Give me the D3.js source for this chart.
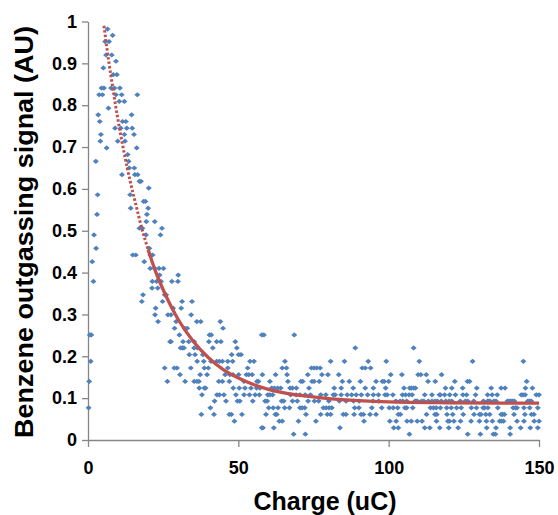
<!DOCTYPE html>
<html>
<head>
<meta charset="utf-8">
<script src="https://cdn.jsdelivr.net/npm/d3@7"></script>
<style>
  html, body { margin: 0; padding: 0; background: #fff; }
  svg { display: block; font-family: "Liberation Sans", Arial, sans-serif; }
</style>
</head>
<body>
<svg id="chart" width="558" height="515"></svg>
<script>
// data: signal comes in steps, so points are grouped per level
const signalLevels = [
  0.982, 0.967, 0.952, 0.920, 0.905, 0.889, 0.873, 0.841, 0.825, 0.809,
  0.793, 0.777, 0.761, 0.745, 0.730, 0.714, 0.698, 0.682, 0.666, 0.650,
  0.634, 0.618, 0.602, 0.586, 0.570, 0.554, 0.539, 0.522, 0.506, 0.490,
  0.458, 0.442, 0.426, 0.410, 0.394, 0.379, 0.363, 0.347, 0.331, 0.315,
  0.299, 0.283, 0.267, 0.251, 0.235, 0.220, 0.204, 0.188, 0.172, 0.156,
  0.140, 0.124, 0.108, 0.093, 0.077, 0.061, 0.045, 0.029, 0.014
];
const chargeAtLevel = [
  [6.5], [8.2], [5.7, 7.0], [6.0, 7.9], [9.3], [5.1], [8.4, 9.6],
  [4.5, 5.3, 7.7, 8.8, 10.6], [3.7, 4.8, 9.3, 11.2, 16.4], [10.4, 12.1],
  [6.8], [3.4, 14.5], [3.9, 11.5, 12.6], [9.0, 10.9, 12.9, 14.7],
  [4.3, 12.1, 15.3], [4.1, 9.9, 12.3], [6.2, 16.2], [13.2], [2.6, 13.5],
  [13.7, 15.4], [11.3, 15.6, 16.5], [17.1, 17.6], [20.2], [3.2, 14.0],
  [18.5, 19.1], [14.2, 20.0], [3.0, 19.6], [19.4, 22.2], [17.1, 18.1, 24.6],
  [2.0, 19.3, 24.1], [2.7, 20.4], [14.9, 15.9, 20.7, 21.5], [1.4, 18.7],
  [20.7, 22.2, 23.6, 25.1], [23.8, 30.0], [1.8, 21.4, 22.8, 24.3, 27.9, 29.9],
  [21.3, 23.2], [18.3, 25.5, 26.0], [17.9, 24.8, 31.3, 34.6], [22.5, 28.3, 31.0],
  [22.3, 26.6, 27.6, 34.3], [23.3, 29.3, 36.2, 37.5, 44.0], [28.8, 32.2, 33.0, 44.9],
  [0.6, 1.1, 30.4, 40.4, 41.0, 57.8, 58.5, 68.6],
  [27.3, 27.6, 31.6, 33.5, 35.3, 40.2, 42.8, 44.2, 49.0],
  [30.8, 31.4, 31.9, 35.3, 36.4, 41.5, 49.5, 88.9, 108.3],
  [33.7, 35.6, 38.2, 47.8, 50.1, 50.9],
  [0.9, 36.3, 38.5, 40.9, 42.8, 43.7, 44.7, 46.5, 48.1, 53.9, 55.2, 65.5, 80.7,
   85.3, 93.2, 99.2, 110.2, 127.9, 144.8],
  [25.5, 28.7, 29.6, 34.2, 38.7, 40.0, 46.5, 53.1, 64.6, 66.0, 74.3, 75.2, 76.1,
   77.2, 91.2, 92.2, 94.0],
  [30.6, 37.3, 39.6, 45.6, 47.2, 48.2, 50.1, 52.7, 53.5, 54.6, 58.0, 62.4, 66.2,
   73.1, 77.8, 79.8, 83.4, 100.7, 104.4, 109.8, 110.7, 112.5, 117.6],
  [0.4, 26.4, 32.3, 35.3, 36.2, 36.9, 43.5, 44.7, 47.0, 51.9, 56.2, 56.7, 60.5,
   66.5, 70.8, 71.4, 74.5, 75.2, 76.9, 84.6, 86.9, 90.6, 95.8, 97.9, 98.5, 100.0,
   113.1, 115.5, 122.0, 126.2, 126.9, 145.9],
  [37.0, 38.7, 39.1, 48.3, 50.3, 52.2, 54.2, 56.1, 57.2, 61.1, 62.0, 63.1, 64.1,
   67.2, 68.0, 69.3, 73.5, 81.9, 84.2, 88.2, 92.2, 94.9, 99.0, 105.1, 107.0, 107.5,
   108.3, 108.9, 118.9, 121.0, 124.6, 129.3, 134.1, 137.4, 138.7, 145.5, 147.8],
  [37.9, 42.9, 43.7, 45.2, 49.2, 51.9, 53.7, 55.6, 57.0, 59.8, 60.5, 61.4, 67.4,
   69.2, 70.5, 72.2, 74.0, 77.4, 79.1, 81.6, 82.2, 84.2, 86.2, 87.7, 89.2, 90.9,
   93.0, 94.9, 96.6, 98.8, 99.5, 101.4, 104.6, 105.6, 106.8, 107.8, 112.0, 114.4,
   116.9, 117.2, 118.6, 120.3, 122.2, 124.7, 125.9, 128.9, 132.9, 134.4, 136.1,
   144.1, 144.7, 145.4, 149.1, 150.0],
  [42.1, 45.9, 49.7, 50.5, 54.8, 58.9, 59.6, 64.4, 65.1, 68.0, 69.6, 73.2, 75.3,
   76.7, 80.1, 83.6, 85.8, 88.3, 90.2, 94.8, 96.7, 102.4, 103.8, 104.7, 106.0,
   108.8, 109.1, 109.5, 110.9, 111.7, 113.2, 114.4, 115.4, 116.2, 117.5, 119.0,
   120.1, 121.0, 123.8, 125.5, 126.3, 128.3, 131.5, 132.9, 133.3, 133.7, 135.0,
   135.7, 139.5, 140.1, 140.7, 141.2, 141.8, 146.3, 146.9, 147.4],
  [0.2, 40.7, 60.1, 61.6, 63.2, 65.4, 67.0, 70.5, 71.2, 72.1, 78.3, 79.2, 80.2,
   81.1, 88.7, 90.1, 94.4, 97.7, 100.2, 101.5, 103.0, 105.4, 106.0, 108.0, 113.9,
   114.9, 115.8, 117.2, 119.3, 120.8, 122.6, 124.1, 127.5, 129.2, 131.4, 131.9,
   133.0, 136.3, 141.4, 142.2, 142.7, 145.0, 146.9, 149.6],
  [37.7, 41.9, 47.0, 47.7, 51.2, 59.2, 62.3, 62.8, 72.5, 77.4, 79.6, 80.7, 84.9,
   85.8, 88.5, 90.8, 91.6, 93.8, 95.8, 103.2, 103.9, 112.6, 115.4, 116.0, 119.4,
   121.3, 124.8, 128.4, 130.2, 130.7, 132.3, 133.6, 137.4, 137.9, 138.5, 141.7,
   145.3, 147.5, 148.3],
  [48.7, 63.6, 64.6, 70.0, 75.8, 91.8, 100.4, 102.5, 106.1, 107.5, 109.5, 111.1,
   115.9, 119.7, 120.2, 121.7, 123.9, 127.4, 130.2, 132.5, 134.5, 136.9, 137.5,
   138.2, 142.7, 145.0, 148.4, 150.0],
  [57.8, 58.2, 61.8, 83.8, 101.7, 103.2, 112.0, 113.7, 117.0, 120.0, 123.1, 132.6,
   135.7, 140.4, 143.9, 147.1, 149.6],
  [68.4, 72.3, 106.9, 126.3, 130.5, 134.8, 135.5, 140.4]
];

// fitted decay curve
const fitCharge = [5.3, 6, 7, 8, 9, 10, 12, 14, 16, 18, 20, 22, 25, 28, 30, 35, 40, 45, 50, 60, 70, 80, 90, 100, 120, 150];
const fitSignal = [0.99, 0.952, 0.900, 0.853, 0.807, 0.764, 0.687, 0.619, 0.560, 0.503, 0.455, 0.412, 0.359, 0.314, 0.288, 0.236, 0.197, 0.168, 0.148, 0.121, 0.107, 0.099, 0.094, 0.091, 0.089, 0.088];

const xTicks = [0, 50, 100, 150];
const yTicks = [0, 0.1, 0.2, 0.3, 0.4, 0.5, 0.6, 0.7, 0.8, 0.9, 1];
const yTickLabels = ["0", "0.1", "0.2", "0.3", "0.4", "0.5", "0.6", "0.7", "0.8", "0.9", "1"];

const points = [];
signalLevels.forEach((s, i) => chargeAtLevel[i].forEach(c => points.push({ c, s })));
const fit = fitCharge.map((c, i) => ({ c, s: fitSignal[i] }));

const svg = d3.select("#chart");
const x = d3.scaleLinear().domain([0, 150]).range([88, 539]);
const y = d3.scaleLinear().domain([0, 1]).range([440, 21.5]);
const axisColor = "#868686";

// axes
const gx = svg.append("g").attr("transform", "translate(0,440)")
  .call(d3.axisBottom(x).tickValues(xTicks).tickSize(7).tickSizeOuter(0).tickPadding(14));
const gy = svg.append("g").attr("transform", "translate(88,0)")
  .call(d3.axisLeft(y).tickValues(yTicks).tickSize(6).tickSizeOuter(0).tickPadding(5)
    .tickFormat((d, i) => yTickLabels[i]));
[gx, gy].forEach(g => {
  g.select(".domain").attr("stroke", axisColor).attr("stroke-width", 1.3);
  g.selectAll(".tick line").attr("stroke", axisColor).attr("stroke-width", 1.3);
  g.selectAll(".tick text")
    .attr("fill", "#000")
    .style("font-size", "18px")
    .style("font-weight", "bold");
});

// scatter
svg.append("g").selectAll("path")
  .data(points)
  .join("path")
  .attr("transform", d => `translate(${x(d.c)},${y(d.s)})`)
  .attr("d", "M0,-2.6L3,0L0,2.6L-3,0Z")
  .attr("fill", "#4F81BD");

// fit: dotted where steep, looks solid where flat
const line = d3.line().x(d => x(d.c)).y(d => y(d.s)).curve(d3.curveMonotoneX);
svg.append("path")
  .datum(fit.filter(d => d.c <= 20))
  .attr("d", line)
  .attr("fill", "none")
  .attr("stroke", "#C0504D")
  .attr("stroke-width", 3)
  .attr("stroke-dasharray", "2.5 2");
svg.append("path")
  .datum(fit.filter(d => d.c >= 20))
  .attr("d", line)
  .attr("fill", "none")
  .attr("stroke", "#C0504D")
  .attr("stroke-width", 3.3);

// titles
svg.append("text")
  .attr("transform", "translate(33,232) rotate(-90)")
  .attr("text-anchor", "middle")
  .attr("textLength", 412)
  .attr("lengthAdjust", "spacingAndGlyphs")
  .style("font-size", "26px")
  .style("font-weight", "bold")
  .text("Benzene outgassing signal (AU)");
svg.append("text")
  .attr("x", 325)
  .attr("y", 510)
  .attr("text-anchor", "middle")
  .style("font-size", "25px")
  .style("font-weight", "bold")
  .text("Charge (uC)");
</script>
</body>
</html>
